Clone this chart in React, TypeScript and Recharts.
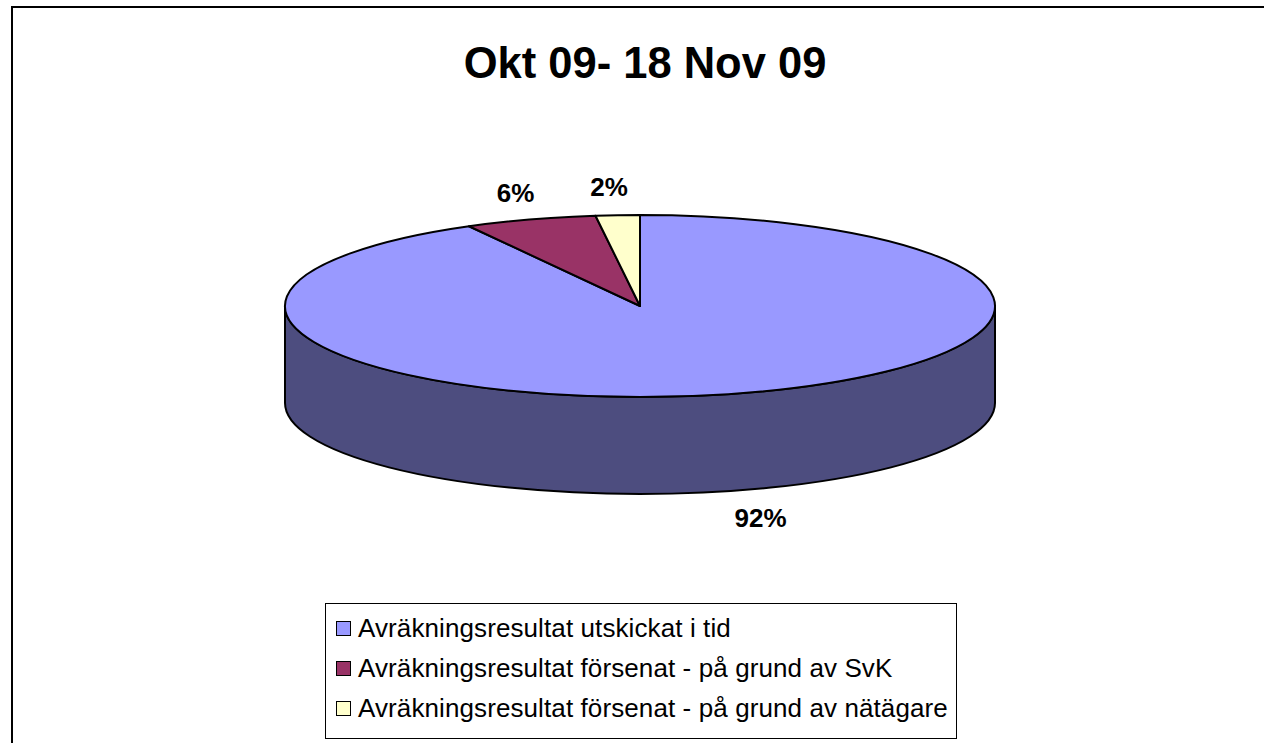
import { PieChart, Pie, Cell, Legend } from "recharts";

const categories = [
  "Avräkningsresultat utskickat i tid",
  "Avräkningsresultat försenat - på grund av SvK",
  "Avräkningsresultat försenat - på grund av nätägare",
];
const shares = [92, 6, 2];
const topColors = ["#9999FF", "#993366", "#FFFFCC"];
const sideColors = ["#4D4D7F", "#4D1A33", "#808066"];
const title = "Okt 09- 18 Nov 09";

const data = categories.map((name, i) => ({ name, value: shares[i] }));

// ellipse geometry of the tilted pie
const RX = 355;
const RY = 91;
const DEPTH = 97;
const RAD = Math.PI / 180;
const FONT = "'Liberation Sans', Arial, sans-serif";

function pt(cx: number, cy: number, a: number, dy = 0) {
  return `${cx + RX * Math.cos(-a * RAD)},${cy + RY * Math.sin(-a * RAD) + dy}`;
}

function Slice3D(props: any) {
  const { cx, cy, startAngle, endAngle, fill } = props;
  const side = sideColors[topColors.indexOf(fill)] || "#444";
  const lo = Math.min(startAngle, endAngle);
  const hi = Math.max(startAngle, endAngle);
  const walls: string[] = [];
  for (let k = -1; k <= 1; k++) {
    const a = Math.max(lo, -180 + 360 * k);
    const b = Math.min(hi, 360 * k);
    if (b > a) {
      walls.push(
        `M${pt(cx, cy, b)} A${RX},${RY} 0 0 1 ${pt(cx, cy, a)} L${pt(cx, cy, a, DEPTH)} A${RX},${RY} 0 0 0 ${pt(cx, cy, b, DEPTH)} Z`
      );
    }
  }
  const large = Math.abs(endAngle - startAngle) > 180 ? 1 : 0;
  const sweep = endAngle < startAngle ? 1 : 0;
  const top = `M${cx},${cy} L${pt(cx, cy, startAngle)} A${RX},${RY} 0 ${large} ${sweep} ${pt(cx, cy, endAngle)} Z`;
  return (
    <g>
      {walls.map((d, i) => (
        <path key={i} d={d} fill={side} stroke="#000" strokeWidth={2} strokeLinejoin="round" />
      ))}
      <path d={top} fill={fill} stroke="#000" strokeWidth={2} strokeLinejoin="round" />
    </g>
  );
}

const renderLabel = ({ cx, cy, midAngle, percent }: any) => {
  const c = Math.cos(-midAngle * RAD);
  const s = Math.sin(-midAngle * RAD);
  // front labels sit below the wall, a little further out
  const x = cx + (RX + 25) * c + (s > 0 ? 26 : -7);
  const y = cy + (RY + 28) * s + (s > 0 ? DEPTH : 0);
  return (
    <text x={x} y={y} textAnchor="middle" dominantBaseline="central" fill="#000"
      style={{ fontFamily: FONT, fontSize: 26, fontWeight: 700 }}>
      {`${Math.round(percent * 100)}%`}
    </text>
  );
};

const renderLegend = () => (
  <div style={{ border: "1px solid #000", boxSizing: "border-box", width: 632, height: 136, padding: "4px 0 0 10px", background: "#fff" }}>
    {categories.map((name, i) => (
      <div key={name} style={{ display: "flex", alignItems: "center", height: 40 }}>
        <span style={{ display: "inline-block", flexShrink: 0, width: 13, height: 13, border: "1.5px solid #000", background: topColors[i], marginRight: 7 }} />
        <span style={{ fontFamily: FONT, fontSize: 26, letterSpacing: 0.1, color: "#000", lineHeight: "40px", whiteSpace: "nowrap" }}>{name}</span>
      </div>
    ))}
  </div>
);

export default function App() {
  return (
    <div style={{ position: "absolute", left: 0, top: 0, width: 1264, height: 743, background: "#fff", overflow: "hidden" }}>
      <div style={{ position: "absolute", left: 11, top: 6, right: 0, bottom: 0, borderTop: "2px solid #000", borderLeft: "2px solid #000" }} />
      <div style={{ position: "absolute", left: 13, width: 1264, top: 42, textAlign: "center", fontFamily: FONT, fontSize: 43.5, fontWeight: 700, lineHeight: "42px" }}>
        {title}
      </div>
      <PieChart width={1264} height={743} margin={{ top: 0, right: 0, bottom: 0, left: 0 }}>
        <Pie
          data={data}
          dataKey="value"
          nameKey="name"
          cx={640}
          cy={306}
          outerRadius={RX}
          startAngle={90}
          endAngle={-270}
          shape={Slice3D}
          label={renderLabel}
          labelLine={false}
          isAnimationActive={false}
        >
          {data.map((d, i) => (
            <Cell key={d.name} fill={topColors[i]} stroke="#000" />
          ))}
        </Pie>
        <Legend
          layout="vertical"
          verticalAlign="bottom"
          content={renderLegend}
          wrapperStyle={{ left: 325, top: 603, width: 632, height: 136, bottom: "auto" }}
        />
      </PieChart>
    </div>
  );
}
